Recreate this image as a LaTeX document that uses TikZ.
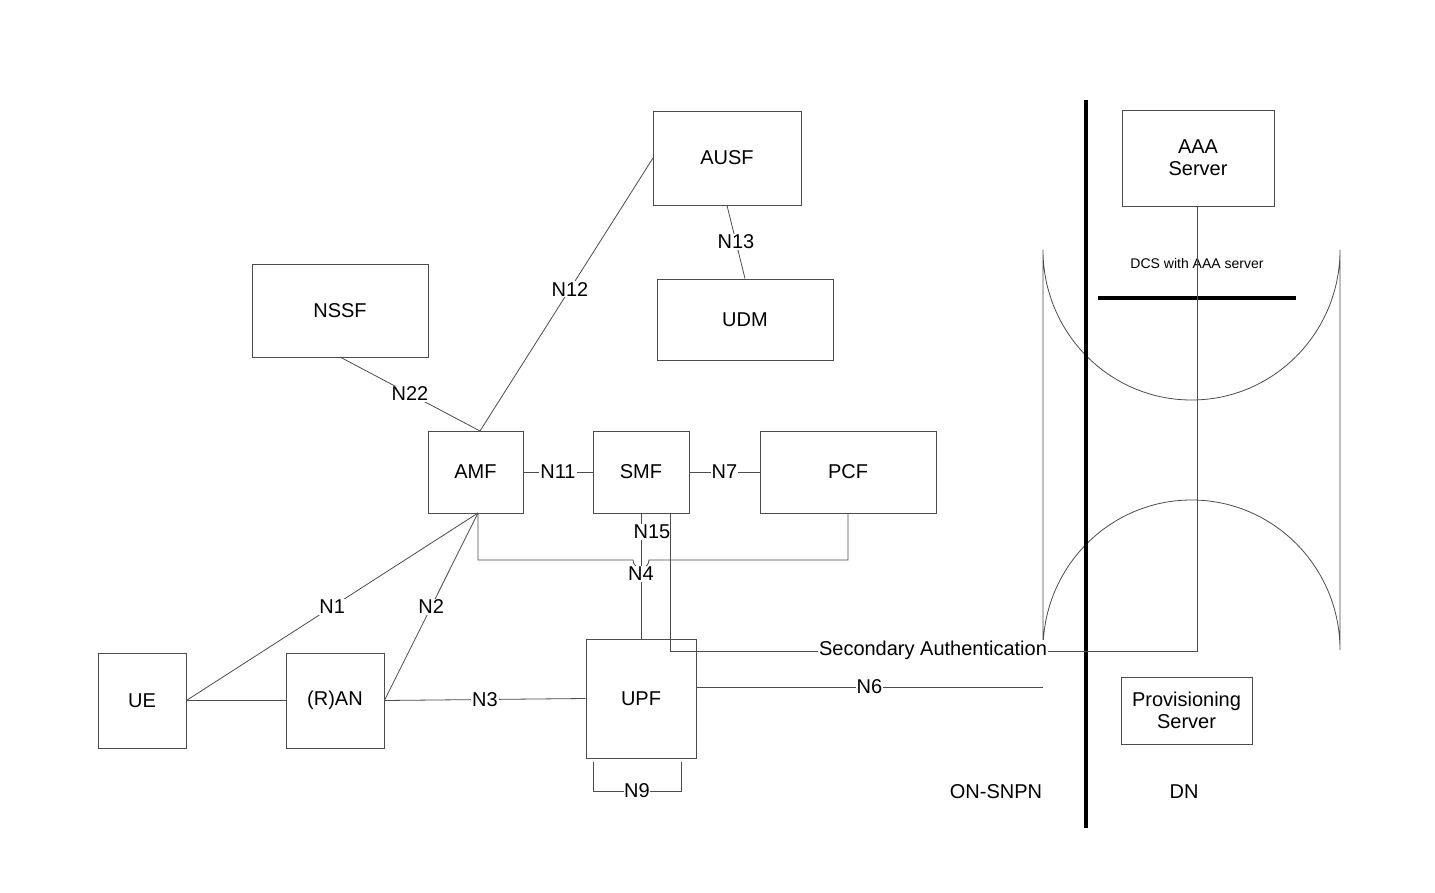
\documentclass[tikz,border=0pt]{standalone}
\usepackage{fontspec}
\setmainfont{Liberation Sans}
\begin{document}
\begin{tikzpicture}[x=1pt,y=-1pt,
  box/.style={draw=black!70,line width=0.8pt,inner sep=0pt,align=center,font=\fontsize{20}{22}\selectfont},
  ln/.style={draw=black!70,line width=0.8pt},
  lab/.style={fill=white,inner sep=1pt,font=\fontsize{20}{22}\selectfont}]
\useasboundingbox[fill=white] (0,0) rectangle (1435,893);
\def\bx#1#2#3#4#5#6{\node[box,minimum width=#4-#2,minimum height=#5-#3] (#1) at ({(#2+#4)/2},{(#3+#5)/2}) {#6};}
\bx{ausf}{653}{111}{801}{205}{AUSF}
\bx{udm}{657}{279}{833}{360}{UDM}
\bx{nssf}{252}{264}{428}{357}{NSSF}
\bx{amf}{428}{431}{523}{513}{AMF}
\bx{smf}{593}{431}{689}{513}{SMF}
\bx{pcf}{760}{431}{936}{513}{PCF}
\bx{ue}{98}{653}{186}{748}{UE}
\bx{ran}{286}{653}{384}{748}{(R)AN}
\bx{upf}{586}{639}{696}{758}{UPF}
\bx{aaa}{1122}{110}{1274}{206}{AAA\\Server}
\bx{prov}{1121}{677}{1252}{744}{Provisioning\\Server}
% DN stadium
\draw[ln] (1043,250) arc[start angle=180,end angle=0,x radius=148.5,y radius=150] -- (1340,650) arc[start angle=0,end angle=-180,x radius=148.5,y radius=150] -- cycle;
\draw[line width=3.5pt] (1086,100) -- (1086,828);
\draw[line width=3.5pt] (1098,298) -- (1296,298);
\node[font=\fontsize{14}{16}\selectfont] (dcs) at (1197,263) {DCS with AAA server};
\node[font=\fontsize{20}{22}\selectfont] (onsnpn) at (996,792) {ON-SNPN};
\node[font=\fontsize{20}{22}\selectfont] (dn) at (1184,792) {DN};
% connectors
\coordinate (amfb) at (478,513);
\coordinate (amft) at (480,431);
\draw[ln] (amft) -- node[lab,pos=0.52]{N12} (653,158);
\draw[ln] (340,357) -- node[lab,pos=0.5]{N22} (amft);
\draw[ln] (ausf.south) -- node[lab]{N13} (udm.south|-udm.north);
\draw[ln] (amf) -- node[lab]{N11} (smf);
\draw[ln] (smf) -- node[lab]{N7} (pcf);
\draw[ln] (ue) -- (ran);
\draw[ln] (ue.east) -- node[lab,pos=0.5]{N1} (amfb);
\draw[ln] (ran.east) -- node[lab,pos=0.5]{N2} (amfb);
\draw[ln] (ran.east) -- node[lab,pos=0.5]{N3} (upf.west);
\draw[ln] (amfb) -- (478,560) -- (633,560) arc[start angle=180,end angle=0,radius=8] -- (848,560) -- (pcf.south-|848,0);
\draw[ln] (641,513) -- (641,639);
\node[lab] (n15) at (652,532) {N15};
\node[lab] (n4) at (641,574) {N4};
\draw[ln] (670,513) -- (670,651) -- (1197,651) -- (aaa.south-|1197,0);
\node[lab] (sa) at (933,650) {Secondary Authentication};
\draw[ln] (696,687) -- node[lab,pos=0.5]{N6} (1043,687);
\draw[ln] (593,762) -- (593,791) -- node[lab,inner sep=0pt]{N9} (681,791) -- (681,762);
\end{tikzpicture}
\end{document}
